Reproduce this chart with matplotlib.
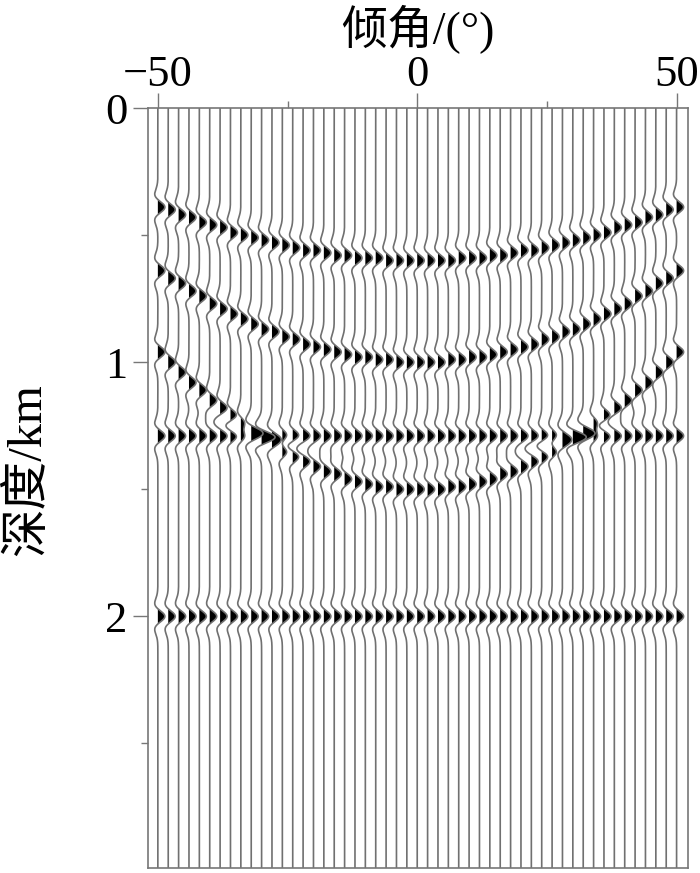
import numpy as np
import matplotlib
matplotlib.use("Agg")
import matplotlib.pyplot as plt
from matplotlib.ticker import MultipleLocator

# 倾角道集：每隔2度一道
angles = [-50, -48, -46, -44, -42, -40, -38, -36, -34, -32, -30, -28, -26,
          -24, -22, -20, -18, -16, -14, -12, -10, -8, -6, -4, -2, 0,
          2, 4, 6, 8, 10, 12, 14, 16, 18, 20, 22, 24, 26, 28, 30, 32, 34,
          36, 38, 40, 42, 44, 46, 48, 50]

# 三个弯曲同相轴的深度 (km)，按道读取
event_a = [0.39, 0.40, 0.42, 0.43, 0.45, 0.46, 0.47, 0.49, 0.50, 0.51, 0.52,
           0.53, 0.54, 0.55, 0.56, 0.56, 0.57, 0.58, 0.58, 0.59, 0.59, 0.59,
           0.60, 0.60, 0.60, 0.60, 0.60, 0.60, 0.60, 0.59, 0.59, 0.59, 0.58,
           0.58, 0.57, 0.56, 0.56, 0.55, 0.54, 0.53, 0.52, 0.51, 0.50, 0.49,
           0.47, 0.46, 0.45, 0.43, 0.42, 0.40, 0.39]
event_b = [0.64, 0.67, 0.69, 0.72, 0.74, 0.77, 0.79, 0.81, 0.83, 0.85, 0.87,
           0.88, 0.90, 0.91, 0.93, 0.94, 0.95, 0.96, 0.97, 0.98, 0.98, 0.99,
           0.99, 1.00, 1.00, 1.00, 1.00, 1.00, 0.99, 0.99, 0.98, 0.98, 0.97,
           0.96, 0.95, 0.94, 0.93, 0.91, 0.90, 0.88, 0.87, 0.85, 0.83, 0.81,
           0.79, 0.77, 0.74, 0.72, 0.69, 0.67, 0.64]
event_c = [0.96, 1.00, 1.04, 1.08, 1.11, 1.15, 1.18, 1.21, 1.24, 1.27, 1.30,
           1.32, 1.35, 1.37, 1.39, 1.41, 1.43, 1.44, 1.46, 1.47, 1.48, 1.49,
           1.49, 1.50, 1.50, 1.50, 1.50, 1.50, 1.49, 1.49, 1.48, 1.47, 1.46,
           1.44, 1.43, 1.41, 1.39, 1.37, 1.35, 1.32, 1.30, 1.27, 1.24, 1.21,
           1.18, 1.15, 1.11, 1.08, 1.04, 1.00, 0.96]
# 两个水平同相轴
flat_depths = [1.29, 2.00]

x_ticks = [-50, 0, 50]
y_ticks = [0, 1, 2]

fonts = ['Liberation Serif', 'Noto Sans CJK SC']
plt.rcParams['font.family'] = fonts

z = np.linspace(0, 3.0, 3001)
f = 7.5
gain = 1.35


def ricker(z, z0):
    a = (np.pi * f * (z - z0)) ** 2
    return (1 - 2 * a) * np.exp(-a)


fig = plt.figure(figsize=(7, 8.73), dpi=100)
ax = fig.add_axes([148 / 700, 1 - 868 / 873, 540 / 700, 760 / 873])

for i, ang in enumerate(angles):
    tr = np.zeros_like(z)
    for d in [event_a[i], event_b[i], event_c[i]] + flat_depths:
        tr += ricker(z, d)
    xs = ang + gain * tr
    ax.fill_betweenx(z, ang, xs, where=tr > 0, color='black', lw=0)
    ax.plot(xs, z, color='#707070', lw=1.2)

ax.set_xlim(-51.9, 52.2)
ax.set_ylim(2.99, 0)
ax.xaxis.tick_top()
ax.xaxis.set_label_position('top')
ax.set_xticks(x_ticks)
ax.set_yticks(y_ticks)
ax.xaxis.set_minor_locator(MultipleLocator(25))
ax.yaxis.set_minor_locator(MultipleLocator(0.5))
ax.tick_params(which='major', length=11, width=1, color='#777777',
               labelsize=32, pad=-2)
ax.tick_params(axis='y', pad=4)
ax.tick_params(which='minor', length=5, width=1, color='#777777')
for s in ax.spines.values():
    s.set_color('#777777')
    s.set_linewidth(1.2)

ax.set_xlabel('倾角/(°)', fontsize=33)
ax.xaxis.set_label_coords(0.5, 1 + (108 - 44) / 760)
ax.set_ylabel('深度/km', fontsize=35)
ax.yaxis.set_label_coords((50 - 148) / 540, (868 - 470) / 760)

fig.savefig('out.png', dpi=100)
